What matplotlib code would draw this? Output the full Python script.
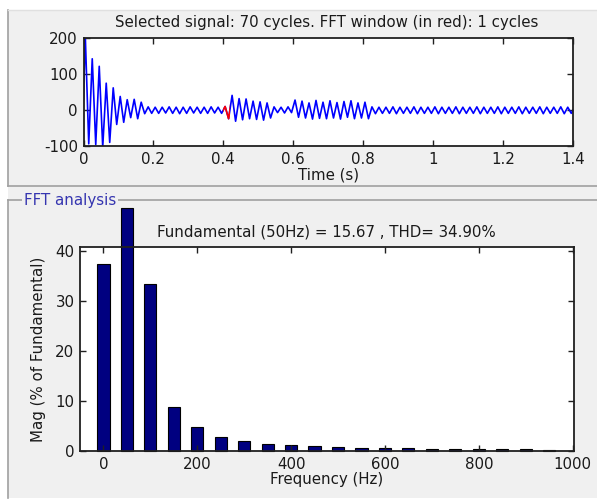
import numpy as np
import matplotlib.pyplot as plt
from matplotlib.patches import Rectangle
from matplotlib.lines import Line2D
from matplotlib.ticker import FuncFormatter

plt.rcParams['font.family'] = ['DejaVu Sans']
plt.rcParams['axes.unicode_minus'] = False

# --- selected signal: peak and trough of each of the 70 cycles
sig_start = 30
sig_peaks = [210, 143, 122, 75, 62, 38, 29, 30, 22, 9,
             8, 8, 9, 8, 8, 9, 8, 8, 9, 8,
             10, 41, 32, 31, 25, 23, 20, 9, 8, 9,
             28, 25, 20, 27, 22, 26, 21, 24, 26, 20,
             22, 9, 8, 8, 9, 8, 8, 9, 8, 8,
             9, 8, 8, 9, 8, 8, 9, 8, 8, 9,
             8, 8, 9, 8, 8, 9, 8, 8, 9, 8]
sig_troughs = [-94, -96, -103, -90, -40, -34, -21, -24, -10, -9,
               -9, -8, -9, -10, -9, -8, -9, -9, -8, -9,
               -24, -31, -27, -24, -26, -28, -22, -7, -8, -7,
               -20, -22, -25, -23, -24, -22, -25, -20, -24, -22,
               -24, -10, -9, -9, -10, -9, -9, -10, -9, -9,
               -10, -9, -9, -10, -9, -9, -10, -9, -9, -10,
               -9, -9, -10, -9, -9, -10, -9, -9, -10, -9]
f0 = 50.0
fft_window = (0.40, 0.42)

# --- FFT of the red window (% of fundamental)
harm_freq = [0, 50, 100, 150, 200, 250, 300, 350, 400, 450,
             500, 550, 600, 650, 700, 750, 800, 850, 900, 950]
harm_mag = [37.3, 48.5, 33.3, 8.7, 4.8, 2.7, 2.0, 1.3, 1.1, 1.0,
            0.8, 0.6, 0.6, 0.6, 0.4, 0.4, 0.4, 0.4, 0.4, 0.2]

title_top = 'Selected signal: 70 cycles. FFT window (in red): 1 cycles'
title_fft = 'Fundamental (50Hz) = 15.67 , THD= 34.90%'

W, H = 597, 503
fig = plt.figure(figsize=(W / 100, H / 100), dpi=100, facecolor='white')

def fx(px):
    return px / W

def fy(py):
    return 1 - py / H

FS = 10.8
txt = '#1a1a1a'

# grey panel background and frames
bg = '#f0f0f0'
fig.add_artist(Rectangle((fx(8), fy(498)), 1 - fx(8), fy(10) - fy(498),
                         transform=fig.transFigure, facecolor=bg, edgecolor='none', zorder=0))
frame = '#a0a0a0'
fig.add_artist(Line2D([fx(8), fx(8)], [fy(10), fy(186)], color=frame, lw=1.2))
fig.add_artist(Line2D([fx(8), 1], [fy(186), fy(186)], color=frame, lw=1.2))
fig.add_artist(Line2D([fx(8), 1], [fy(10), fy(10)], color='#e0e0e0', lw=1.0))
fig.add_artist(Line2D([fx(8), fx(8)], [fy(200), fy(498)], color=frame, lw=1.2))
fig.add_artist(Line2D([fx(8), 1], [fy(200), fy(200)], color=frame, lw=1.2))
fig.text(fx(24), fy(200), 'FFT analysis', color='#3535b0', fontsize=FS,
         va='center', ha='left',
         bbox=dict(facecolor=bg, edgecolor='none', pad=1.5))

def style_axes(ax):
    ax.set_facecolor('white')
    for s in ax.spines.values():
        s.set_linewidth(1.3)
        s.set_color('#202020')
    ax.tick_params(direction='in', length=4, width=1, top=True, right=True,
                   labelsize=FS, pad=4, colors='#202020', labelcolor=txt)

# --- top: time signal
ax1 = fig.add_axes([fx(83.5), fy(146), fx(573) - fx(83.5), fy(38.3) - fy(146)])
t = [0.0]
v = [sig_start]
for k in range(len(sig_peaks)):
    t += [(k + 0.25) / f0, (k + 0.75) / f0]
    v += [sig_peaks[k], sig_troughs[k]]
t.append(len(sig_peaks) / f0)
v.append(0)
ax1.plot(t, v, color='#0000ff', lw=1.2)
red, = ax1.plot(t, v, color='#ff0000', lw=1.2)
clip = Rectangle((fft_window[0], -300), fft_window[1] - fft_window[0], 600,
                 transform=ax1.transData)
red.set_clip_path(clip)
ax1.set_xlim(0, 1.4)
ax1.set_ylim(-100, 200)
ax1.set_xticks([0, 0.2, 0.4, 0.6, 0.8, 1.0, 1.2, 1.4])
ax1.set_yticks([-100, 0, 100, 200])
ax1.xaxis.set_major_formatter(FuncFormatter(lambda x, p: '%g' % round(x, 2)))
style_axes(ax1)
ax1.set_xlabel('Time (s)', fontsize=FS, color=txt)
ax1.xaxis.set_label_coords(0.5, -(168 - 146) / (146 - 38.3), transform=ax1.transAxes)
fig.text(fx(327), fy(22), title_top, fontsize=FS, ha='center', va='center', color=txt)

# --- bottom: harmonic spectrum
ax2 = fig.add_axes([fx(80), fy(451), fx(574) - fx(80), fy(246.7) - fy(451)])
bars = ax2.bar(harm_freq, harm_mag, width=26, color='#000080',
               edgecolor='black', linewidth=0.8)
for b in bars:
    b.set_clip_on(False)
ax2.set_xlim(-50, 1003)
ax2.set_ylim(0, 40.8)
ax2.set_xticks([0, 200, 400, 600, 800, 1000])
ax2.set_yticks([0, 10, 20, 30, 40])
style_axes(ax2)
ax2.set_xlabel('Frequency (Hz)', fontsize=FS, color=txt)
ax2.xaxis.set_label_coords(0.5, -(472 - 451) / (451 - 246.7))
ax2.set_ylabel('Mag (% of Fundamental)', fontsize=FS, color=txt)
ax2.yaxis.set_label_coords(-(80 - 46) / (574 - 80), 0.5)
fig.text(fx(326), fy(232), title_fft, fontsize=FS, ha='center', va='center', color=txt)

fig.savefig('out.png', dpi=100, facecolor='white')
